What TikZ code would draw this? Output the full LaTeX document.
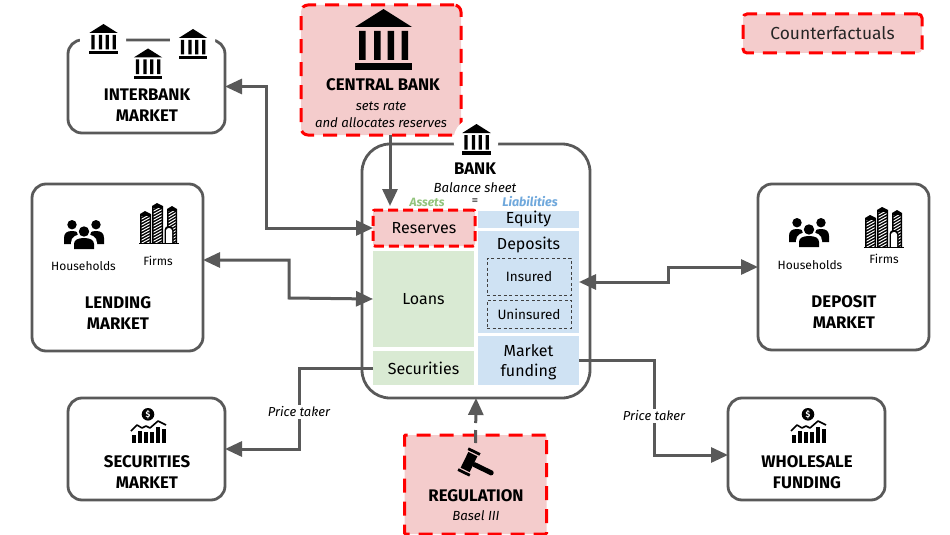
\documentclass[tikz,border=0pt]{standalone}
\usepackage{fontspec}
\setmainfont{Fira Sans}
\usetikzlibrary{arrows.meta,calc}
\definecolor{linegray}{HTML}{595959}
\definecolor{redfill}{HTML}{F4CCCC}
\definecolor{greenfill}{HTML}{D9EAD3}
\definecolor{bluefill}{HTML}{CFE2F3}
\definecolor{assetgreen}{HTML}{93C47D}
\definecolor{liabblue}{HTML}{6FA8DC}
\tikzset{
  x=1pt,y=-1pt,
  market/.style={draw=linegray,line width=2.8pt,rounded corners=14pt,fill=white,inner sep=0pt,outer sep=0pt},
  counter/.style={draw=red,fill=redfill,line width=3pt,dash pattern=on 14pt off 9pt,rounded corners=4pt,inner sep=0pt,outer sep=0pt},
  cell/.style={inner sep=0pt,outer sep=0pt,font=\fontsize{16}{18}\selectfont,align=center},
  asset/.style={cell,fill=greenfill},
  liab/.style={cell,fill=bluefill},
  sub/.style={draw=black!75,line width=.9pt,dash pattern=on 3pt off 2.5pt,inner sep=0pt,outer sep=0pt,font=\fontsize{13.5}{16}\selectfont},
  title/.style={font=\fontsize{16.8}{18}\selectfont\bfseries,inner sep=0pt},
  ital/.style={font=\fontsize{13.2}{15}\selectfont\itshape,inner sep=0pt},
  small/.style={font=\fontsize{12}{14}\selectfont,inner sep=0pt},
  conn/.style={draw=linegray,line width=3pt,-{Stealth[length=17pt,width=15pt,inset=0pt]}},
  bothconn/.style={draw=linegray,line width=3pt,{Stealth[length=17pt,width=15pt,inset=0pt]}-{Stealth[length=17pt,width=15pt,inset=0pt]}},
}
\newcommand{\bankicon}[3]{%
  \begin{scope}[shift={(#1,#2)},scale=#3]
    \fill[black] (-28.5,18) -- (0,0) -- (28.5,18) -- cycle;
    \fill[black] (-24.5,22) rectangle (-18,51) (-9.5,22) rectangle (-3,51) (4,22) rectangle (10.5,51) (18,22) rectangle (24.5,51);
    \fill[black] (-28.5,54) rectangle (28.5,61);
  \end{scope}}
\newcommand{\peopleicon}[2]{%
  \begin{scope}[shift={(#1,#2)}]
    \fill[black] (8,4.7) circle (4.7) (32,4.7) circle (4.7);
    \fill[black] (0,24) -- (0,18) .. controls (0,13) and (3,11) .. (8,11) .. controls (13,11) and (16,13) .. (16,18) -- (16,24) -- cycle;
    \fill[black] (24,24) -- (24,18) .. controls (24,13) and (27,11) .. (32,11) .. controls (37,11) and (40,13) .. (40,18) -- (40,24) -- cycle;
    \fill[white] (20,11.5) circle (7);
    \fill[white] (7,30) -- (7,23) .. controls (7,17) and (12,14) .. (20,14) .. controls (28,14) and (33,17) .. (33,23) -- (33,30) -- cycle;
    \fill[black] (20,11.5) circle (5.2);
    \fill[black] (10,29) -- (10,24) .. controls (10,20) and (14,18) .. (20,18) .. controls (26,18) and (30,20) .. (30,24) -- (30,29) -- cycle;
  \end{scope}}
\newcommand{\towerhatch}[4]{%
  \fill[black] (#1,#3+3) -- (#1+5,#3) -- (#2,#3+3) -- (#2,#4) -- (#1,#4) -- cycle;
  \begin{scope}
    \clip (#1+1.5,#3+5) rectangle (#2-1.5,#4);
    \foreach \k in {0,3,...,45} {\draw[white,line width=1pt] (#1,#3+\k+3) -- (#2,#3+\k-3);}
  \end{scope}}
\newcommand{\firmsicon}[2]{%
  \begin{scope}[shift={(#1,#2)}]
    \towerhatch{1}{12}{8}{40}
    \towerhatch{13}{24}{0}{40}
    \towerhatch{28}{38}{3}{40}
    \fill[black] (25.5,40) -- (25.5,27) .. controls (25.5,24) and (27.5,23) .. (30,23) .. controls (32.5,23) and (34.5,24) .. (34.5,27) -- (34.5,40) -- cycle;
    \fill[white] (27,40) -- (27,27.5) .. controls (27,26) and (28.5,25) .. (30,25) .. controls (31.5,25) and (33,26) .. (33,27.5) -- (33,40) -- cycle;
    \fill[black] (0,39.8) rectangle (40,41);
  \end{scope}}
\newcommand{\charticon}[2]{%
  \begin{scope}[shift={(#1,#2)}]
    \fill[black] (17,6.3) circle (6.3);
    \node[text=white,font=\fontsize{8.5}{8.5}\selectfont\bfseries,inner sep=0pt] at (17,6.3) {\$};
    \foreach \a/\b in {1/27,7/23,13/24,19/24,25/19,31/21} {\fill[black] (\a,\b) rectangle ++(4.4,35-\b);}
    \draw[white,line width=2.4pt,line join=round] (0,23) -- (6,17) -- (11,20) -- (15,18) -- (19,20) -- (27,13) -- (35,17);
    \draw[black,line width=1.6pt,line join=round] (0,23) -- (6,17) -- (11,20) -- (15,18) -- (19,20) -- (27,13) -- (35,17);
  \end{scope}}
\newcommand{\gavelicon}[2]{%
  \begin{scope}[shift={(#1,#2)},rotate=-26]
    \fill[black] (-6.5,-13) rectangle (6.5,-10.2) (-5,-8.8) rectangle (5,8.8) (-6.5,10.2) rectangle (6.5,13);
    \fill[black,rounded corners=1.5pt] (4,-2.5) rectangle (27,2.5);
  \end{scope}}
\begin{document}
\begin{tikzpicture}
\useasboundingbox (0,0) rectangle (950,535);
% ---- boxes
\node[market,minimum width=157pt,minimum height=93pt] (interbank) at (146.5,86.5) {};
\node[market,minimum width=171pt,minimum height=167pt] (lending) at (117.5,267.5) {};
\node[market,minimum width=171pt,minimum height=166pt] (depositm) at (843.5,267) {};
\node[market,minimum width=157pt,minimum height=102pt] (securitiesm) at (146.5,449) {};
\node[market,minimum width=157pt,minimum height=102pt] (wholesale) at (806.5,449) {};
\node[market,rounded corners=28pt,minimum width=228pt,minimum height=254pt] (bank) at (476,271) {};
\node[counter,rounded corners=7pt,minimum width=160pt,minimum height=130pt] (central) at (381,70) {};
\node[counter,minimum width=142pt,minimum height=99pt,rounded corners=1pt] (regulation) at (475.5,484.5) {};
\node[counter,minimum width=179pt,minimum height=39pt,font=\fontsize{17.4}{18}\selectfont] (counterf) at (832.5,33.5) {\raisebox{-1pt}{\textcolor{black!85}{Counterfactuals}}};
% ---- balance sheet
\node[cell,fill=redfill,draw=red,line width=3pt,dash pattern=on 10pt off 5pt,rounded corners=2pt,minimum width=102pt,minimum height=36pt] (reserves) at (424,228) {\raisebox{-.7pt}{Reserves}};
\node[asset,minimum width=101pt,minimum height=96pt] (loans) at (423.5,299) {\raisebox{-1pt}{Loans}};
\node[asset,minimum width=101pt,minimum height=34pt] (securities) at (423.5,368) {Securities};
\node[liab,minimum width=101pt,minimum height=17pt] (equity) at (528.5,219) {\raisebox{-1.5pt}{Equity}};
\node[liab,minimum width=101pt,minimum height=102pt] (deposits) at (528.5,282) {};
\node[cell,inner sep=0pt] (depositslabel) at (528.5,245) {Deposits};
\node[liab,minimum width=101pt,minimum height=49pt] (funding) at (528.5,360.5) {};
\node[cell] (fundinglabel1) at (528.5,351) {Market};
\node[cell] (fundinglabel2) at (528.5,372) {funding};
\node[sub,minimum width=84pt,minimum height=37pt] (insured) at (529,276.5) {Insured};
\node[sub,minimum width=84pt,minimum height=28pt] (uninsured) at (529,314) {Uninsured};
% ---- connectors
\draw[bothconn] (interbank.east) -| (266,228) -- (reserves.west);
\draw[bothconn] ([yshift=7.5pt]lending.east) -| (289,298) -- (loans.west);
\draw[bothconn] (deposits.east) -- (668,282) |- (depositm.west);
\draw[conn] (securities.west) -- (299,368) |- (securitiesm.east);
\draw[conn] (funding.east) -- (654,360.5) |- ([yshift=-6pt]wholesale.west);
\draw[conn,shorten >=4pt] ([xshift=9pt]central.south) -- ([xshift=9pt]central.south |- reserves.north);
\draw[conn,dash pattern=on 13pt off 7pt on 40pt] ([yshift=-8pt]regulation.north) -- (bank.south);
\node[ital,fill=white,inner sep=2pt,font=\fontsize{13}{14}\selectfont\itshape] (pt1) at (299,412) {Price taker};
\node[ital,fill=white,inner sep=2pt,font=\fontsize{13}{14}\selectfont\itshape] (pt2) at (654,416) {Price taker};
% ---- gaps behind icons
\fill[white] (80,30) rectangle (126,50) (170,30) rectangle (215,60);
\fill[white] (476,140) circle (22.5);
% ---- icons
\bankicon{383.5}{9}{1}
\bankicon{103.5}{24}{.5}
\bankicon{193}{29}{.5}
\bankicon{148}{48.5}{.5}
\bankicon{476.5}{124}{.5}
\peopleicon{64}{220}
\firmsicon{139}{203}
\peopleicon{789}{218}
\firmsicon{864}{207}
\charticon{131}{408}
\charticon{791}{408}
\gavelicon{469}{462}
% ---- labels
\node[title] (t1) at (147,95) {INTERBANK};
\node[title] (t2) at (147,116) {MARKET};
\node[title] (t3) at (383,85) {CENTRAL BANK};
\node[ital] (t4) at (381,106) {sets rate};
\node[ital] (t5) at (381,122.5) {and allocates reserves};
\node[title] (t6) at (475,169) {BANK};
\node[ital] (t7) at (475,187.5) {Balance sheet};
\node[font=\fontsize{12}{14}\selectfont\bfseries\itshape,text=assetgreen,inner sep=0pt] (t8) at (427,202) {Assets};
\node[font=\fontsize{12}{14}\selectfont\bfseries,text=black!60,inner sep=0pt] (t9) at (475,202) {=};
\node[font=\fontsize{12.5}{14}\selectfont\bfseries\itshape,text=liabblue,inner sep=0pt] (t10) at (530,202) {Liabilities};
\node[small] (t11) at (83.5,266) {Households};
\node[small] (t12) at (158,261) {Firms};
\node[title] (t13) at (118,303) {LENDING};
\node[title] (t14) at (118,324) {MARKET};
\node[small] (t15) at (810,265) {Households};
\node[small] (t16) at (884,259) {Firms};
\node[title] (t17) at (844,302) {DEPOSIT};
\node[title] (t18) at (844,323) {MARKET};
\node[title] (t19) at (147,462) {SECURITIES};
\node[title] (t20) at (147,483) {MARKET};
\node[title] (t21) at (807,462) {WHOLESALE};
\node[title] (t22) at (807,483) {FUNDING};
\node[title] (t23) at (476,496) {REGULATION};
\node[ital] (t24) at (476,516) {Basel III};
\end{tikzpicture}
\end{document}
